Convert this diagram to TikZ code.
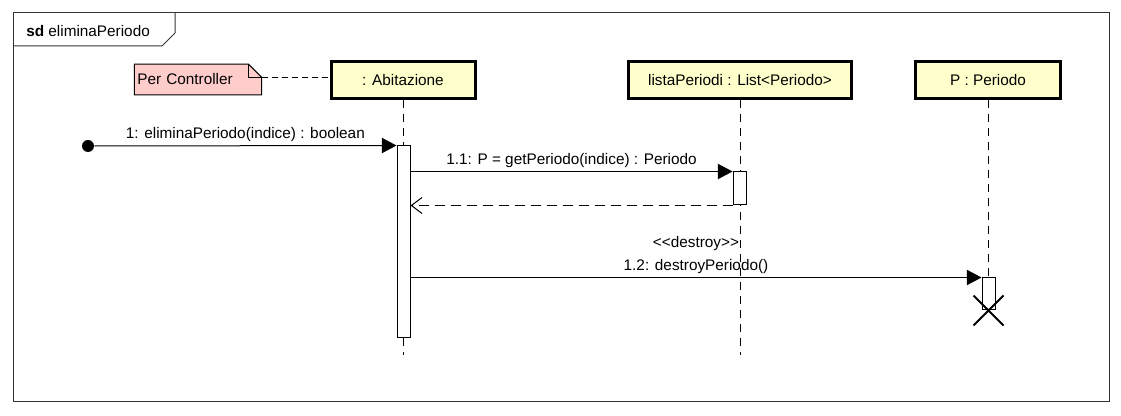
\documentclass[tikz,border=0pt]{standalone}
\usepackage{fontspec}
\setmainfont{Liberation Sans}
\usetikzlibrary{arrows.meta,positioning,calc,shapes.misc,backgrounds}
\definecolor{headfill}{HTML}{FFFFCC}
\definecolor{notefill}{HTML}{FFCCCC}
\begin{document}
\begin{tikzpicture}[x=0.75pt,y=-0.75pt,font=\fontsize{11.5}{13}\selectfont,
	head/.style={draw,line width=2.25pt,fill=headfill,minimum height=28pt,inner sep=0pt},
	life/.style={dash pattern=on 6pt off 4.5pt,line width=0.75pt},
	act/.style={draw,fill=white,minimum width=9.75pt,inner sep=0pt,line width=0.75pt},
	call/.style={-{Triangle[length=11pt,width=11.5pt]},line width=0.75pt},
	reply/.style={-{Straight Barb[length=8pt,width=12pt]},dash pattern=on 7.5pt off 4.5pt,line width=0.75pt}]
	\useasboundingbox (0,0) rectangle (1121,416);
	% frame
	\draw[black!80,line width=0.75pt] (13,13) rectangle (1109,402);
	\draw[black!80,line width=0.75pt] (13,46) -- (162,46) -- (175,33) -- (175,13);
	\node[anchor=west,inner sep=0pt] (title) at (26,31) {\textbf{sd} eliminaPeriodo};
	% lifelines
	\node[head,minimum width=108pt] (abit) at (403,80) {: Abitazione};
	\node[head,minimum width=167pt] (lista) at (740,80) {listaPeriodi : List<Periodo>};
	\node[head,minimum width=109pt] (per) at (988,80) {P : Periodo};
	\coordinate (abitEnd) at (403,355);
	\coordinate (listaEnd) at (740,355);
	\draw[life] (abit.south) -- (abitEnd);
	\draw[life] (lista.south) -- (listaEnd);
	% note
	\node[minimum width=95pt,minimum height=22.5pt,text width=91pt,inner sep=1.5pt,align=left] (note) at (198,79.5) {Per Controller};
	\coordinate (fold) at ($(note.north east)+(0,13)$);
	\begin{scope}[on background layer]
		\filldraw[fill=notefill,line width=0.75pt] (note.south west) -- (note.north west) -- ($(note.north east)+(-13,0)$) -- (fold) -- (note.south east) -- cycle;
	\end{scope}
	\draw[line width=0.75pt] ($(note.north east)+(-13,0)$) -- ($(note.north east)+(-13,13)$) -- (fold);
	\draw[dash pattern=on 4.5pt off 3pt,line width=0.75pt] (fold) -- (fold -| abit.west);
	% activations
	\draw[life] (per.south) -- (988,278);
	\node[act,minimum height=144pt] (actA) at (403.5,242) {};
	\node[act,minimum height=24.75pt] (actL) at (739.5,188.5) {};
	\node[act,minimum height=24pt] (actP) at (988.5,294) {};
	\node[cross out,draw,line width=1.5pt,minimum size=21pt,inner sep=0pt] (destroyP) at (actP.south) {};
	% messages
	\node[circle,fill,inner sep=0pt,minimum size=9pt] (start) at (88,146) {};
	\draw[call] (start) -- (actA.north west) node[midway,above=-1pt] {1: eliminaPeriodo(indice) : boolean};
	\draw[call] (actA.east |- actL.north) -- (actL.north west) node[midway,above=-1pt] {1.1: P = getPeriodo(indice) : Periodo};
	\draw[reply] (actL.south west) -- (actA.east |- actL.south);
	\draw[call] (actA.east |- actP.north) -- (actP.north west) node[midway,above=-1pt] (lbl) {1.2: destroyPeriodo()};
	\node[above=2.5pt of lbl,inner sep=0pt] (stereo) {{<}{<}destroy{>}{>}};
\end{tikzpicture}
\end{document}
